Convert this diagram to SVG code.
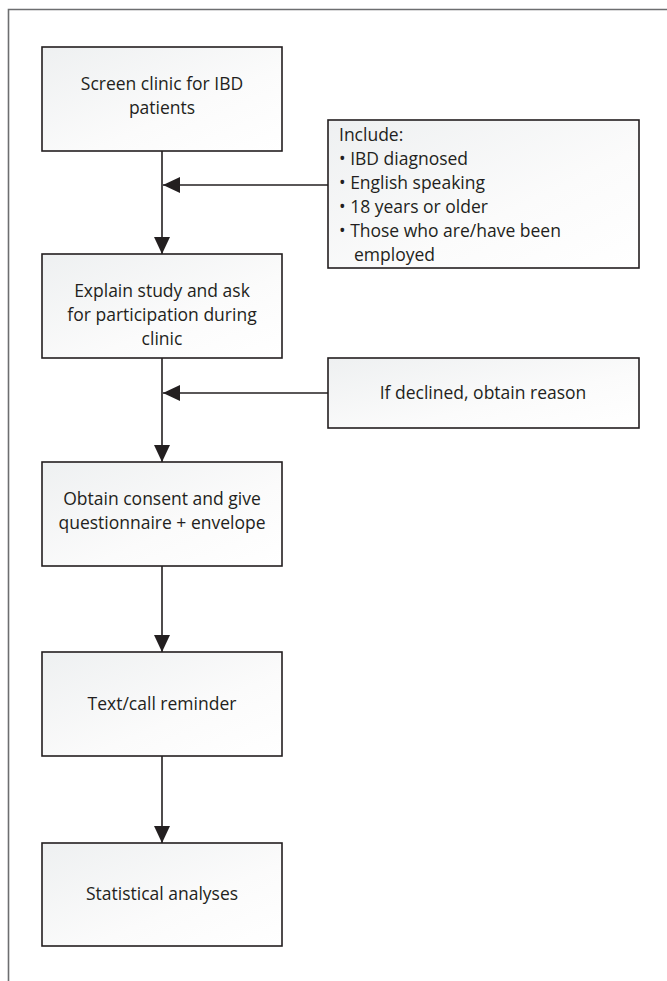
<svg xmlns="http://www.w3.org/2000/svg" width="667" height="981" viewBox="0 0 667 981">
<defs>
<linearGradient id="g" x1="0" y1="0" x2="1" y2="1">
<stop offset="0" stop-color="#eef0f1"/>
<stop offset="0.6" stop-color="#fbfbfb"/>
<stop offset="1" stop-color="#ffffff"/>
</linearGradient>
<marker id="ah" markerUnits="userSpaceOnUse" markerWidth="18" markerHeight="18" viewBox="0 0 18 18" refX="17" refY="9" orient="auto">
<path d="M0,1 L17,9 L0,17 Z" fill="#231f20"/>
</marker>
<style>
.box{fill:url(#g);stroke:#231f20;stroke-width:1.6}
.t{font-family:"Open Sans","Noto Sans","DejaVu Sans",sans-serif;font-size:17.5px;fill:#231f20}
.c{text-anchor:middle}
.ln{stroke:#231f20;stroke-width:1.6;fill:none;marker-end:url(#ah)}
</style>
</defs>
<rect width="667" height="981" fill="#ffffff"/>
<path d="M8.5,981 L8.5,9.5 L667,9.5" fill="none" stroke="#6d6e70" stroke-width="1.6"/>
<g id="connectors">
<line class="ln" x1="162" y1="151" x2="162" y2="254"/>
<line class="ln" x1="162" y1="358" x2="162" y2="462"/>
<line class="ln" x1="162" y1="566" x2="162" y2="652"/>
<line class="ln" x1="162" y1="756" x2="162" y2="843"/>
<line class="ln" x1="328" y1="185" x2="163" y2="185"/>
<line class="ln" x1="328" y1="393" x2="163" y2="393"/>
</g>
<g id="n1">
<rect class="box" x="42" y="47" width="240" height="104"/>
<text class="t c" x="162" y="90">Screen clinic for IBD</text>
<text class="t c" x="162" y="114">patients</text>
</g>
<g id="n_include">
<rect class="box" x="328" y="120" width="311" height="148"/>
<text class="t" x="339" y="141">Include:</text>
<text class="t" x="339" y="165">• IBD diagnosed</text>
<text class="t" x="339" y="189">• English speaking</text>
<text class="t" x="339" y="213">• 18 years or older</text>
<text class="t" x="339" y="237">• Those who are/have been</text>
<text class="t" x="354" y="261">employed</text>
</g>
<g id="n2">
<rect class="box" x="42" y="254" width="240" height="104"/>
<text class="t c" x="162" y="297">Explain study and ask</text>
<text class="t c" x="162" y="321">for participation during</text>
<text class="t c" x="162" y="345">clinic</text>
</g>
<g id="n_declined">
<rect class="box" x="328" y="358" width="311" height="70"/>
<text class="t c" x="483" y="399">If declined, obtain reason</text>
</g>
<g id="n3">
<rect class="box" x="42" y="462" width="240" height="104"/>
<text class="t c" x="162" y="505">Obtain consent and give</text>
<text class="t c" x="162" y="529">questionnaire + envelope</text>
</g>
<g id="n4">
<rect class="box" x="42" y="652" width="240" height="104"/>
<text class="t c" x="162" y="710">Text/call reminder</text>
</g>
<g id="n5">
<rect class="box" x="42" y="843" width="240" height="103"/>
<text class="t c" x="162" y="900">Statistical analyses</text>
</g>
</svg>
